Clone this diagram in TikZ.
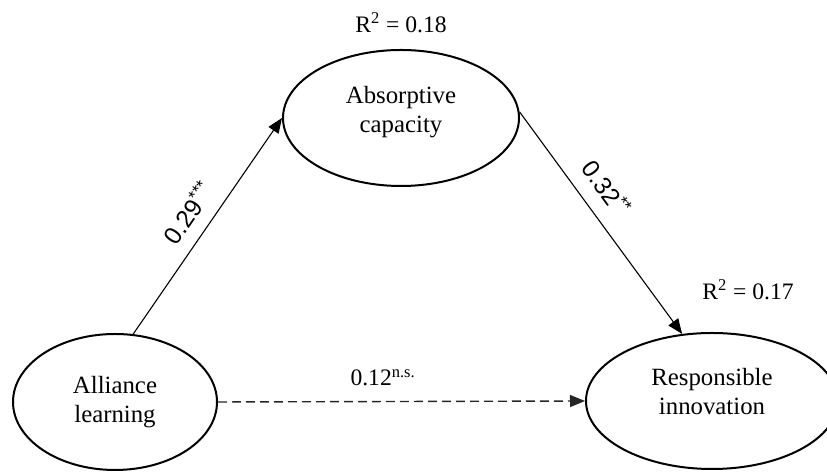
\documentclass[tikz,border=0pt]{standalone}
\usepackage{fontspec}
\setmainfont{Liberation Serif}
\newfontfamily\coeffont{Liberation Sans}
\usetikzlibrary{arrows.meta,shapes.geometric}

\begin{document}
\begin{tikzpicture}[x=0.5pt,y=-0.5pt,
  construct/.style={draw,ellipse,line width=1pt,align=center,inner sep=0pt,
    font=\fontsize{12.4}{14.5}\selectfont},
  effect/.style={line width=0.55pt,-{Triangle[length=7.5pt,width=6pt]}},
  coef/.style={font=\coeffont\fontsize{12.3}{14}\selectfont,sloped,above=#1},
  rsq/.style={font=\fontsize{11.8}{15}\selectfont}]
  \useasboundingbox (0,0) rectangle (827,474);
  % the three constructs
  \node[construct,minimum width=118pt,minimum height=68pt,text depth=9pt] (absorb) at (401,118) {Absorptive\\capacity};
  \node[construct,minimum width=102pt,minimum height=68pt] (alliance) at (115,402) {Alliance\\learning};
  \node[construct,minimum width=126pt,minimum height=68pt,text depth=10pt] (respinn) at (712,401) {Responsible\\innovation};
  % explained variance
  \node[rsq] (rabsorb) at (401,23) {R\textsuperscript{2} = 0.18};
  \node[rsq] (rrespinn) at (748,290) {R\textsuperscript{2} = 0.17};
  % paths
  \draw[effect] (alliance.75) -- (absorb.west)
     node[coef=3pt,pos=0.5] (ctoabs) {0.29\textsuperscript{***}};
  \draw[effect] (absorb.3) -- (respinn.114)
     node[coef=4pt,pos=0.41] (ctoresp) {0.32\textsuperscript{**}};
  \draw[effect,black!85,line width=0.7pt,dash pattern=on 4.5pt off 2.5pt] (alliance.east) -- (respinn.west)
     node[rsq,pos=0.45,above=4pt,black] (cdirect) {0.12\textsuperscript{n.s.}};
\end{tikzpicture}
\end{document}
